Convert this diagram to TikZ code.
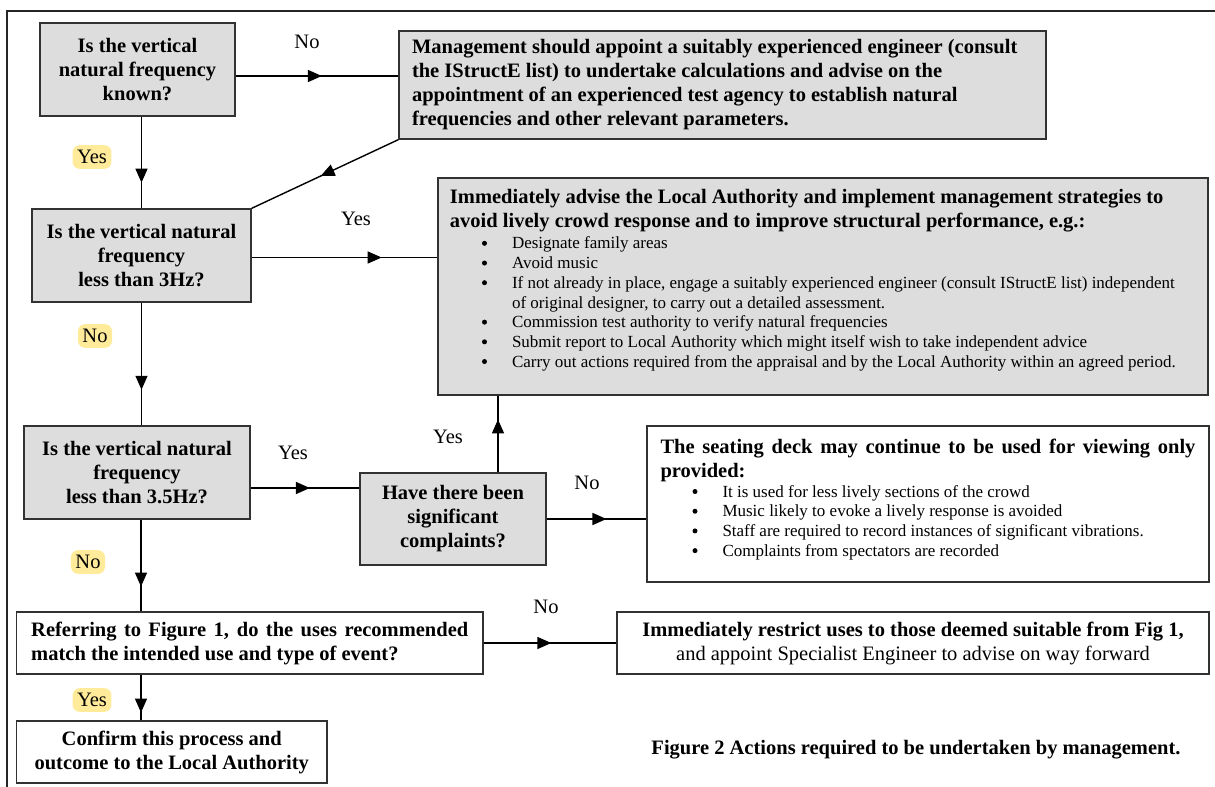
\documentclass[tikz,border=0pt]{standalone}
\usepackage{fontspec}
\setmainfont{Liberation Serif}
\usetikzlibrary{arrows.meta,decorations.markings}
\definecolor{boxgray}{RGB}{221,221,221}
\definecolor{boxline}{RGB}{50,50,50}
\definecolor{hlyellow}{RGB}{255,235,153}
\newcommand{\bigfont}{\fontsize{20.5bp}{24bp}\selectfont}
\newcommand{\smallfont}{\fontsize{17bp}{19.7bp}\selectfont}
\newcommand{\bulletdot}{\tikz[baseline=0pt]\fill[black] (0bp,5.6bp) circle[radius=2.5bp];}
\newcommand{\bul}{\hspace*{32bp}\makebox[30bp][l]{\bulletdot}}
\newcommand{\bulindent}{\hspace*{62bp}}
\tikzset{
  flowbox/.style={draw=boxline, line width=1.3bp, inner sep=0pt, align=center, font=\bigfont\bfseries},
  graybox/.style={flowbox, fill=boxgray},
  conn/.style={line width=1.4bp, postaction={decorate},
    decoration={markings, mark=at position #1 with {\arrow{Triangle[length=14bp,width=12bp]}}}},
  conn/.default=0.5,
  lbl/.style={font=\bigfont, inner sep=0pt},
  hl/.style={lbl, fill=hlyellow, rounded corners=7bp, inner xsep=4.5bp, inner ysep=5bp},
}
\begin{document}
\begin{tikzpicture}[x=1bp,y=-1bp]
\useasboundingbox (0,0) rectangle (1215,787);
\draw[line width=2.2bp, black!85] (7,787) -- (7,11) -- (1215,11);

% boxes
\node[graybox, minimum width=195bp, minimum height=93bp] (A) at (137.5,69.5)
  {Is the vertical\\natural frequency\\known?};
\node[graybox, minimum width=647bp, minimum height=108bp] (B) at (722.5,85)
  {\parbox{621bp}{\raggedright Management should appoint a suitably experienced engineer (consult\\
   the IStructE list) to undertake calculations and advise on the\\
   appointment of an experienced test agency to establish natural\\
   frequencies and other relevant parameters.}};
\node[graybox, minimum width=219bp, minimum height=93bp] (C) at (141.5,255.5)
  {Is the vertical natural\\frequency\\less than 3Hz?};
\node[graybox, minimum width=770bp, minimum height=217bp] (D) at (823,286.5)
  {\parbox[c][217bp][t]{746bp}{\vspace*{11bp}\parindent=0pt\raggedright
   Immediately advise the Local Authority and implement management strategies to\\
   avoid lively crowd response and to improve structural performance, e.g.:\par
   \vspace{2bp}
   {\smallfont\mdseries
   \bul Designate family areas\par
   \bul Avoid music\par
   \bul If not already in place, engage a suitably experienced engineer (consult IStructE list) independent\\
   \bulindent of original designer, to carry out a detailed assessment.\par
   \bul Commission test authority to verify natural frequencies\par
   \bul Submit report to Local Authority which might itself wish to take independent advice\par
   \bul Carry out actions required from the appraisal and by the Local Authority within an agreed period.\par}}};
\node[graybox, minimum width=226bp, minimum height=93bp] (E) at (137,472.5)
  {Is the vertical natural\\frequency\\less than 3.5Hz?};
\node[graybox, minimum width=186bp, minimum height=92bp] (F) at (453,519)
  {Have there been\\significant\\complaints?};
\node[flowbox, minimum width=562bp, minimum height=156bp] (G) at (928,504)
  {\parbox[c][156bp][t]{535bp}{\vspace*{13bp}\parindent=0pt
   \makebox[\linewidth][s]{The seating deck may continue to be used for viewing only}\\
   provided:\par
   {\smallfont\mdseries\raggedright
   \bul It is used for less lively sections of the crowd\par
   \bul Music likely to evoke a lively response is avoided\par
   \bul Staff are required to record instances of significant vibrations.\par
   \bul Complaints from spectators are recorded\par}}};
\node[flowbox, minimum width=466.5bp, minimum height=62bp] (H) at (249.75,643)
  {\parbox{437bp}{\parindent=0pt
   \makebox[\linewidth][s]{Referring to Figure 1, do the uses recommended}\\
   match the intended use and type of event?}};
\node[flowbox, minimum width=592bp, minimum height=62bp] (I) at (913,643)
  {Immediately restrict uses to those deemed suitable from Fig 1,\\
   {\mdseries and appoint Specialist Engineer to advise on way forward}};
\node[flowbox, minimum width=310.5bp, minimum height=62bp] (J) at (171.75,752)
  {Confirm this process and\\outcome to the Local Authority};

\node[font=\bigfont\bfseries, inner sep=0pt] (cap) at (916,750)
  {Figure 2 Actions required to be undertaken by management.};

% connectors
\draw[conn=0.53] ([yshift=-6.5bp]A.east) -- ([yshift=-6.5bp]A.east -| B.west);
\draw[conn=0.72] (A.south -| C.north) -- (C.north);
\draw[conn=0.53] (B.south west) -- (C.north east);
\draw[conn=0.70] ([yshift=-2bp]C.east) -- ([yshift=-2bp]C.east -| D.west);
\draw[conn=0.71] (C.south) -- (C.south |- E.north);
\draw[conn=0.545] ([yshift=-15.5bp]E.east) -- ([yshift=-15.5bp]E.east -| F.west);
\draw[conn=0.69] ([xshift=45bp]F.north) -- ([xshift=45bp]F.north |- D.south);
\draw[conn=0.60] (F.east) -- (F.east -| G.west);
\draw[conn=0.73] ([xshift=4bp]E.south) -- ([xshift=4bp]E.south |- H.north);
\draw[conn=0.51] (H.east) -- (H.east -| I.west);
\draw[conn=0.83] ([xshift=4bp]E.south |- H.south) -- ([xshift=4bp]E.south |- J.north);

% labels
\node[lbl] (l1) at (307,42) {No};
\node[hl]  (l2) at (92,157) {Yes};
\node[lbl] (l3) at (356,219) {Yes};
\node[hl]  (l4) at (95,336) {No};
\node[lbl] (l5) at (293,453) {Yes};
\node[lbl] (l6) at (448,437) {Yes};
\node[lbl] (l7) at (587,483) {No};
\node[hl]  (l8) at (88,562) {No};
\node[lbl] (l9) at (546,607) {No};
\node[hl]  (l10) at (92,700) {Yes};
\end{tikzpicture}
\end{document}
